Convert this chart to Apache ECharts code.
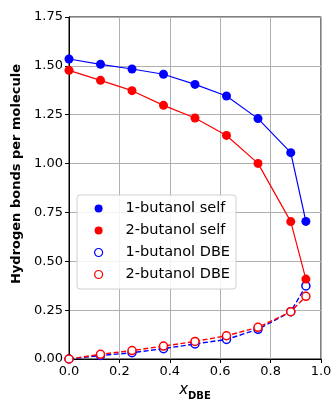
<!DOCTYPE html>
<html>
<head>
<meta charset="utf-8">
<script src="https://cdn.jsdelivr.net/npm/echarts@6/dist/echarts.min.js"></script>
<style>
  html, body { margin: 0; padding: 0; background: #fff; }
  #chart { width: 333px; height: 400px; }
</style>
</head>
<body>
<div id="chart"></div>
<script>
// Mole fraction of DBE
const xDBE = [0, 0.125, 0.25, 0.375, 0.5, 0.625, 0.75, 0.88, 0.94];

// Hydrogen bonds per molecule
const butanol1Self = [1.535, 1.508, 1.484, 1.457, 1.405, 1.346, 1.230, 1.056, 0.704];
const butanol2Self = [1.477, 1.426, 1.373, 1.298, 1.233, 1.144, 1.001, 0.703, 0.409];
const butanol1DBE  = [0.0, 0.018, 0.032, 0.053, 0.077, 0.100, 0.152, 0.242, 0.374];
const butanol2DBE  = [0.0, 0.024, 0.043, 0.066, 0.090, 0.119, 0.162, 0.242, 0.321];

const seriesNames = ['1-butanol self', '2-butanol self', '1-butanol DBE', '2-butanol DBE'];

const font = 'DejaVu Sans';
const pairs = arr => xDBE.map((x, i) => [x, arr[i]]);

function makeSeries(name, values, color, open) {
  return {
    name: name,
    type: 'line',
    data: pairs(values),
    symbol: 'circle',
    symbolSize: open ? 8 : 9,
    showSymbol: true,
    lineStyle: open
      ? { color: color, width: 1.4, type: [5, 2.5] }
      : { color: color, width: 1.2, type: 'solid' },
    itemStyle: open
      ? { color: '#fff', borderColor: color, borderWidth: 1.5 }
      : { color: color, borderWidth: 0 },
    emphasis: { disabled: true },
    animation: false,
    z: open ? 3 : 4
  };
}

const chart = echarts.init(document.getElementById('chart'), null, { renderer: 'canvas' });
chart.setOption({
  backgroundColor: '#fff',
  animation: false,
  textStyle: { fontFamily: font },
  grid: {
    left: 69, right: 12, top: 17, bottom: 41,
    outerBoundsMode: 'none',
    containLabel: false,
    show: true, borderColor: '#000', borderWidth: 1, backgroundColor: 'transparent'
  },
  legend: {
    orient: 'vertical',
    left: 77, top: 195,
    padding: [6, 6, 7, 17],
    itemGap: 7,
    itemWidth: 8, itemHeight: 8,
    icon: 'circle',
    backgroundColor: 'rgba(255,255,255,0.85)',
    borderColor: '#d0d0d0', borderWidth: 1, borderRadius: 3,
    textStyle: { fontFamily: font, fontSize: 14.5, color: '#000', padding: [0, 0, 0, 18] },
    data: [
      { name: seriesNames[0] },
      { name: seriesNames[1] },
      { name: seriesNames[2], itemStyle: { borderWidth: 1.2 } },
      { name: seriesNames[3], itemStyle: { borderWidth: 1.2 } }
    ]
  },
  xAxis: {
    type: 'value',
    min: 0, max: 1, interval: 0.2,
    name: '{i|x}{s|DBE}',
    nameLocation: 'middle',
    nameGap: 24,
    nameTextStyle: {
      rich: {
        i: { fontFamily: font, fontStyle: 'italic', fontSize: 15, color: '#000', verticalAlign: 'bottom' },
        s: { fontFamily: font, fontWeight: 'bold', fontSize: 10, color: '#000', verticalAlign: 'bottom', padding: [0, 0, -3, 0] }
      }
    },
    axisLine: { show: true, lineStyle: { color: '#000', width: 1 } },
    axisTick: { show: true, inside: false, length: 4, lineStyle: { color: '#000' } },
    axisLabel: { fontFamily: font, fontSize: 13, color: '#000', margin: 6, formatter: v => v.toFixed(1) },
    splitLine: { show: true, lineStyle: { color: '#b0b0b0', width: 1 } }
  },
  yAxis: {
    type: 'value',
    min: 0, max: 1.75, interval: 0.25,
    name: 'Hydrogen bonds per molecule',
    nameLocation: 'middle',
    nameGap: 45,
    nameTextStyle: { fontFamily: font, fontWeight: 'bold', fontSize: 13, color: '#000', padding: [0, 0, 0, 28] },
    axisLine: { show: true, lineStyle: { color: '#000', width: 1 } },
    axisTick: { show: true, inside: false, length: 4, lineStyle: { color: '#000' } },
    axisLabel: { fontFamily: font, fontSize: 13, color: '#000', margin: 6, formatter: v => v.toFixed(2) },
    splitLine: { show: true, lineStyle: { color: '#b0b0b0', width: 1 } }
  },
  series: [
    makeSeries(seriesNames[0], butanol1Self, '#0000ff', false),
    makeSeries(seriesNames[1], butanol2Self, '#ff0000', false),
    makeSeries(seriesNames[2], butanol1DBE, '#0000ff', true),
    makeSeries(seriesNames[3], butanol2DBE, '#ff0000', true)
  ]
});
</script>
</body>
</html>
